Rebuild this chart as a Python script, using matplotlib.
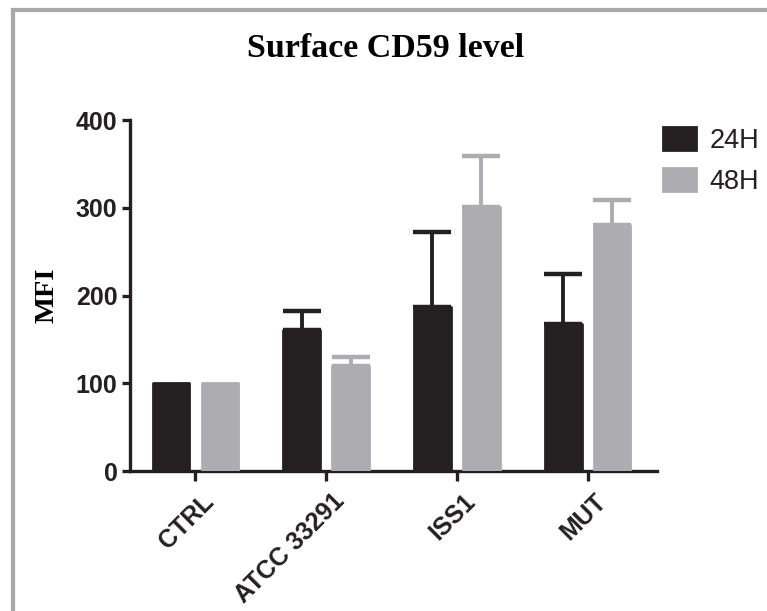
import numpy as np
import matplotlib.pyplot as plt
from matplotlib.lines import Line2D
import matplotlib.transforms as mtransforms

groups = ["CTRL", "ATCC 33291", "ISS1", "MUT"]
mfi_24h = [100, 161, 187, 168]
mfi_48h = [100, 120, 301, 280]
err_24h = [0, 21, 85, 57]
err_48h = [0, 10, 58, 29]
series = ["24H", "48H"]
yticks = [0, 100, 200, 300, 400]

dark = "#242021"
grey = "#adadb1"

fig = plt.figure(figsize=(7.67, 6.11), dpi=100)
ax = fig.add_axes([0.1695, 0.229, 0.6871, 0.5746])

x = np.arange(len(groups))
w = 0.28
off = 0.187

for vals, errs, col, lab, dx in [(mfi_24h, err_24h, dark, series[0], -off),
                                 (mfi_48h, err_48h, grey, series[1], off)]:
    ax.bar(x + dx, vals, w, color=col, edgecolor=col, linewidth=2,
           joinstyle="round", label=lab, zorder=3)
    vals = np.array(vals)
    errs = np.array(errs)
    m = errs > 0
    ax.errorbar(x[m] + dx, vals[m], yerr=[np.zeros(m.sum()), errs[m]],
                fmt="none", ecolor=col, elinewidth=2.8, capsize=14,
                capthick=3.2, zorder=2)

ax.set_xlim(-0.5, 3.53)
ax.set_ylim(0, 400)
ax.set_yticks(yticks)
ax.set_xticks(x)
ax.set_xticklabels(groups, rotation=45, ha="right", rotation_mode="anchor")

for s in ["top", "right"]:
    ax.spines[s].set_visible(False)
for s in ["left", "bottom"]:
    ax.spines[s].set_linewidth(2.4)
    ax.spines[s].set_color(dark)
    ax.spines[s].set_capstyle("projecting")

ax.tick_params(axis="y", length=6, width=2.4, color=dark, pad=3,
               labelsize=18, labelcolor=dark)
ax.tick_params(axis="x", length=7, width=2.4, color=dark, pad=6,
               labelsize=18, labelcolor=dark)
for t in ax.get_yticklabels() + ax.get_xticklabels():
    t.set_fontweight("bold")
    t.set_family("Liberation Sans")

shift = mtransforms.ScaledTranslation(6 / 100, 0, fig.dpi_scale_trans)
for t in ax.get_xticklabels():
    t.set_transform(t.get_transform() + shift)

fig.text(0.503, 1 - 57 / 611, "Surface CD59 level", ha="center", va="baseline",
         family="Liberation Serif", fontweight="bold", fontsize=24.5)
fig.text(0.0613, 0.517, "MFI", rotation=90, ha="center", va="center",
         family="Liberation Serif", fontweight="bold", fontsize=20.5)

leg = ax.legend(loc="upper left", frameon=False,
                prop={"family": "Liberation Sans", "size": 19.5},
                handlelength=1.22, handleheight=0.95, handletextpad=0.5,
                labelspacing=0.5, borderpad=0, borderaxespad=0)
for t in leg.get_texts():
    t.set_color(dark)
leg.set_bbox_to_anchor((663 / 767, 1 - 127 / 611), transform=fig.transFigure)

# grey frame on top and left
fig.add_artist(Line2D([12.5 / 767, 12.5 / 767], [0, 1 - 10 / 611],
                      transform=fig.transFigure, color="#a8a8a8", linewidth=3))
fig.add_artist(Line2D([12.5 / 767, 1], [1 - 10 / 611, 1 - 10 / 611],
                      transform=fig.transFigure, color="#a8a8a8", linewidth=3))

fig.savefig("out.png", dpi=100)
